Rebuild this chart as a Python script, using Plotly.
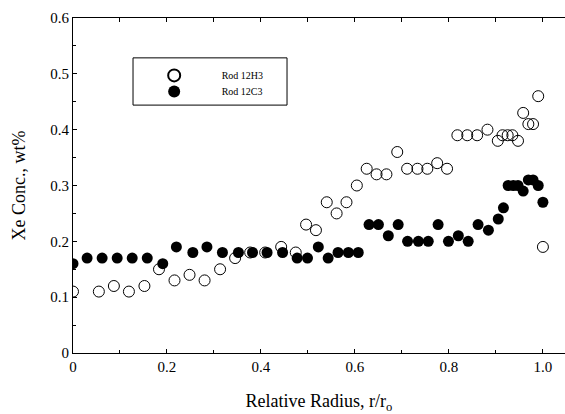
import plotly.graph_objects as go

# Rod 12H3 (open circles)
h3_x = [0, 0.055, 0.087, 0.119, 0.152, 0.183, 0.216, 0.248, 0.28, 0.313,
        0.345, 0.377, 0.409, 0.443, 0.474, 0.496, 0.517, 0.54, 0.561, 0.582,
        0.604, 0.625, 0.646, 0.667, 0.69, 0.711, 0.733, 0.754, 0.775, 0.796,
        0.818, 0.839, 0.86, 0.882, 0.904, 0.914, 0.925, 0.935, 0.947, 0.958,
        0.969, 0.979, 0.99, 1.0]
h3_y = [0.11, 0.11, 0.12, 0.11, 0.12, 0.15, 0.13, 0.14, 0.13, 0.15,
        0.17, 0.18, 0.18, 0.19, 0.18, 0.23, 0.22, 0.27, 0.25, 0.27,
        0.30, 0.33, 0.32, 0.32, 0.36, 0.33, 0.33, 0.33, 0.34, 0.33,
        0.39, 0.39, 0.39, 0.40, 0.38, 0.39, 0.39, 0.39, 0.38, 0.43,
        0.41, 0.41, 0.46, 0.19]

# Rod 12C3 (filled circles)
c3_x = [0, 0.03, 0.062, 0.094, 0.126, 0.158, 0.191, 0.22, 0.255, 0.285,
        0.318, 0.352, 0.382, 0.413, 0.446, 0.477, 0.499, 0.522, 0.543, 0.564,
        0.586, 0.607, 0.63, 0.65, 0.671, 0.692, 0.712, 0.735, 0.756, 0.777,
        0.799, 0.82, 0.841, 0.862, 0.884, 0.905, 0.916, 0.926, 0.937, 0.947,
        0.958, 0.969, 0.979, 0.99, 1.0]
c3_y = [0.16, 0.17, 0.17, 0.17, 0.17, 0.17, 0.16, 0.19, 0.18, 0.19,
        0.18, 0.18, 0.18, 0.18, 0.18, 0.17, 0.17, 0.19, 0.17, 0.18,
        0.18, 0.18, 0.23, 0.23, 0.21, 0.23, 0.20, 0.20, 0.20, 0.23,
        0.20, 0.21, 0.20, 0.23, 0.22, 0.24, 0.26, 0.30, 0.30, 0.30,
        0.29, 0.31, 0.31, 0.30, 0.27]

x_ticks = [0, 0.2, 0.4, 0.6, 0.8, 1.0]
x_ticktext = ["0", "0.2", "0.4", "0.6", "0.8", "1.0"]
y_ticks = [0, 0.1, 0.2, 0.3, 0.4, 0.5, 0.6]
y_ticktext = ["0", "0.1", "0.2", "0.3", "0.4", "0.5", "0.6"]

FONT = "Liberation Serif, Times New Roman, serif"
NB = "\u00a0"

fig = go.Figure()
fig.add_trace(go.Scatter(
    x=h3_x, y=h3_y, mode="markers", name=NB * 11 + "Rod 12H3", legend="legend",
    marker=dict(symbol="circle-open", size=11, color="black", line=dict(width=1, color="black")),
))
fig.add_trace(go.Scatter(
    x=c3_x, y=c3_y, mode="markers", name=NB * 11 + "Rod 12C3", legend="legend2",
    marker=dict(symbol="circle", size=11, color="black", line=dict(width=0)),
))
# invisible trace for top axis
fig.add_trace(go.Scatter(x=[0, 1], y=[0, 0], xaxis="x2", mode="markers",
                         marker=dict(opacity=0), showlegend=False, hoverinfo="skip"))

leg_common = dict(xanchor="left", yanchor="top", bgcolor="rgba(0,0,0,0)", borderwidth=0,
                  font=dict(size=10, family=FONT), itemsizing="constant")

fig.update_layout(
    width=565, height=414,
    margin=dict(l=73, r=0, t=18, b=61),
    paper_bgcolor="white", plot_bgcolor="white",
    font=dict(family=FONT, color="black"),
    showlegend=True,
    legend=dict(x=0.165, y=0.872, **leg_common),
    legend2=dict(x=0.165, y=0.824, **leg_common),
    xaxis=dict(range=[0, 1.047], tickvals=x_ticks, ticktext=x_ticktext,
               ticks="inside", ticklen=4, tickcolor="black",
               minor=dict(dtick=0.1, ticks="inside", ticklen=3, tickcolor="black"),
               showline=True, linecolor="black", linewidth=1,
               showgrid=False, zeroline=False,
               tickfont=dict(size=15, family=FONT),
               title=dict(text="Relative Radius, r/r<sub>o</sub>", font=dict(size=18, family=FONT), standoff=21)),
    xaxis2=dict(range=[0, 1.047], overlaying="x", side="top", dtick=0.1, tick0=0,
                ticks="inside", ticklen=4, tickcolor="black", showticklabels=False,
                showline=True, linecolor="black", linewidth=1, showgrid=False, zeroline=False),
    yaxis=dict(range=[0, 0.6], tickvals=y_ticks, ticktext=y_ticktext,
               ticks="inside", ticklen=4, tickcolor="black",
               minor=dict(dtick=0.05, ticks="inside", ticklen=3, tickcolor="black"),
               showline=True, linecolor="black", linewidth=1,
               showgrid=False, zeroline=False,
               tickfont=dict(size=15, family=FONT),
               title=dict(text="Xe Conc., wt%", font=dict(size=18, family=FONT), standoff=19)),
    shapes=[dict(type="rect", xref="paper", yref="paper",
                 x0=0.122, x1=0.435, y0=0.740, y1=0.881,
                 line=dict(color="black", width=1), fillcolor="rgba(0,0,0,0)")],
)

fig.write_html("out.html")
